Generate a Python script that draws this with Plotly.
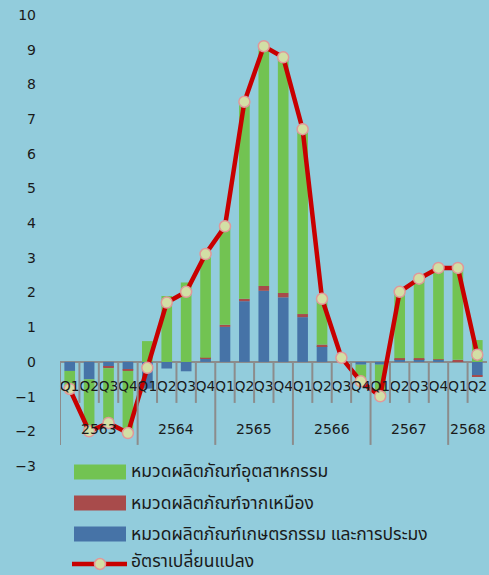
import plotly.graph_objects as go

# ---------------- data ----------------
years = ["2563"] * 4 + ["2564"] * 4 + ["2565"] * 4 + ["2566"] * 4 + ["2567"] * 4 + ["2568"] * 2
quarters = ["Q1", "Q2", "Q3", "Q4"] * 5 + ["Q1", "Q2"]

industrial = [-0.52, -1.50, -1.58, -1.79, 0.60, 1.90, 2.29, 2.99, 2.84, 5.68, 6.91, 6.79,
              5.33, 1.32, 0.10, -0.48, -0.91, 1.91, 2.29, 2.63, 2.65, 0.63]
sugar = [0.00, 0.00, -0.04, -0.04, 0.00, 0.00, 0.00, 0.02, 0.06, 0.07, 0.14, 0.13,
         0.09, 0.05, 0.00, 0.00, 0.00, 0.03, 0.03, 0.02, 0.04, -0.03]
agri = [-0.26, -0.50, -0.14, -0.22, -0.77, -0.19, -0.27, 0.10, 1.01, 1.75, 2.05, 1.86,
        1.29, 0.45, 0.02, -0.08, -0.08, 0.08, 0.08, 0.06, 0.02, -0.39]
change_rate = [-0.78, -2.00, -1.76, -2.05, -0.17, 1.71, 2.02, 3.11, 3.91, 7.50, 9.10, 8.78,
               6.71, 1.82, 0.12, -0.56, -0.99, 2.02, 2.40, 2.71, 2.71, 0.21]

name_ind = "หมวดผลิตภัณฑ์อุตสาหกรรม"
name_sugar = "หมวดผลิตภัณฑ์จากเหมือง"
name_agri = "หมวดผลิตภัณฑ์เกษตรกรรม และการประมง"
name_rate = "อัตราเปลี่ยนแปลง"

# ---------------- style ----------------
BG = "#92CCDC"
GREEN = "#72C352"
RED_BAR = "#A84B4B"
BLUE = "#4673A7"
LINE = "#C80000"
MK_FILL = "#D2DFA5"
MK_EDGE = "#E0989A"
AXIS = "#8C8C8C"
TXT = "#1a1a1a"
FONT = "DejaVu Sans, Noto Sans, sans-serif"
THAI_FONT = "Tahoma, Noto Sans Thai, Noto Sans, DejaVu Sans, sans-serif"

W, H = 489, 575
ML, MR, MT, MB = 60, 2, 15, 109
YMIN, YMAX = -3, 10
plot_w = W - ML - MR
plot_h = H - MT - MB
px_per_unit = plot_h / (YMAX - YMIN)

x = [f"{y} {q}" for y, q in zip(years, quarters)]

fig = go.Figure()
fig.add_bar(x=x, y=agri, name=name_agri, marker_color=BLUE, marker_line_width=0, width=0.55)
fig.add_bar(x=x, y=sugar, name=name_sugar, marker_color=RED_BAR, marker_line_width=0, width=0.55)
fig.add_bar(x=x, y=industrial, name=name_ind, marker_color=GREEN, marker_line_width=0, width=0.55)
fig.add_scatter(x=x, y=change_rate, name=name_rate, mode="lines+markers",
                line=dict(color=LINE, width=4.5),
                marker=dict(size=11, color=MK_FILL, line=dict(color=MK_EDGE, width=1.5)))

fig.update_layout(
    width=W, height=H,
    margin=dict(l=ML, r=MR, t=MT, b=MB),
    paper_bgcolor=BG, plot_bgcolor=BG,
    barmode="relative",
    showlegend=False,
    font=dict(family=FONT, size=14, color=TXT),
)
fig.update_yaxes(range=[YMIN, YMAX], dtick=1, showgrid=False, showline=False,
                 zeroline=True, zerolinecolor=AXIS, zerolinewidth=2,
                 ticks="", ticklabelstandoff=23, tickfont=dict(size=14, color=TXT))
fig.update_xaxes(type="category", range=[-0.5, len(x) - 0.5], anchor="free",
                 position=(0 - YMIN) / (YMAX - YMIN),
                 tickvals=x, ticktext=quarters, tickangle=0, ticks="", showgrid=False,
                 showline=False, zeroline=False, ticklabelstandoff=14,
                 tickfont=dict(size=14, color=TXT))

# category boundary ticks and year dividers
short_len = 41 / px_per_unit
long_len = 83 / px_per_unit
for i in range(len(x)):
    is_year = i == 0 or years[i] != years[i - 1]
    fig.add_shape(type="line", xref="x", yref="y", x0=i - 0.5, x1=i - 0.5, y0=0,
                  y1=-(long_len if is_year else short_len),
                  line=dict(color=AXIS, width=2))

# year labels
groups = []
for i, yv in enumerate(years):
    if not groups or groups[-1][0] != yv:
        groups.append([yv, i, i])
    else:
        groups[-1][2] = i
for yv, a, b in groups:
    fig.add_annotation(x=(a + b) / 2, y=-67 / px_per_unit, xref="x", yref="y", text=yv,
                       showarrow=False, font=dict(size=14, color=TXT))

# manual legend
def px_x(p):
    return (p - ML) / plot_w

def px_y(p):
    return (H - MB - p) / plot_h

legend_items = [(name_ind, GREEN, 472), (name_sugar, RED_BAR, 503), (name_agri, BLUE, 534)]
for label, col, yc in legend_items:
    fig.add_shape(type="rect", xref="paper", yref="paper", x0=px_x(74), x1=px_x(126),
                  y0=px_y(yc - 7.5), y1=px_y(yc + 7.5), fillcolor=col, line_width=0)
    fig.add_annotation(xref="paper", yref="paper", x=px_x(129), y=px_y(yc), text=label,
                       xanchor="left", yanchor="middle", showarrow=False,
                       font=dict(family=THAI_FONT, size=17.5, color=TXT))
yc = 564
fig.add_shape(type="line", xref="paper", yref="paper", x0=px_x(72), x1=px_x(127),
              y0=px_y(yc), y1=px_y(yc), line=dict(color=LINE, width=4.5))
fig.add_shape(type="circle", xref="paper", yref="paper", x0=px_x(94.5), x1=px_x(105.5),
              y0=px_y(yc + 5.5), y1=px_y(yc - 5.5), fillcolor=MK_FILL,
              line=dict(color=MK_EDGE, width=1.5))
fig.add_annotation(xref="paper", yref="paper", x=px_x(129), y=px_y(yc - 3), text=name_rate,
                   xanchor="left", yanchor="middle", showarrow=False,
                   font=dict(family=THAI_FONT, size=17.5, color=TXT))

fig.write_html("out.html", config={"displayModeBar": False},
               post_script="document.body.style.margin='0px';")
